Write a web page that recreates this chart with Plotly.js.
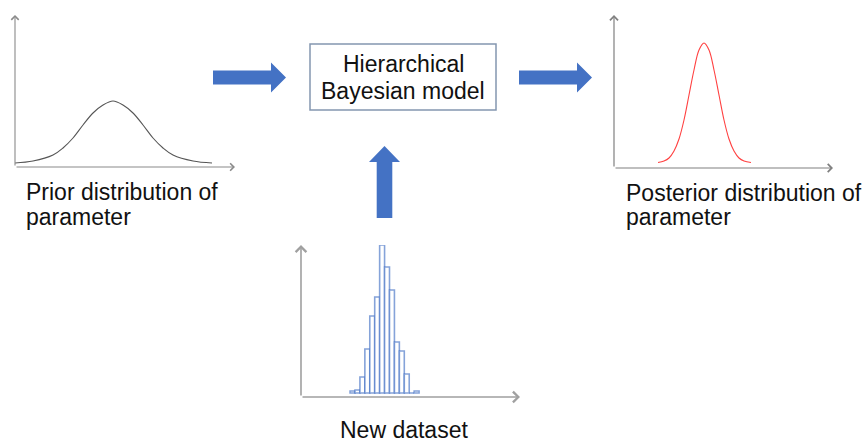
<!DOCTYPE html>
<html>
<head>
<meta charset="utf-8">
<script src="https://cdn.plot.ly/plotly-3.0.1.min.js"></script>
<style>html,body{margin:0;padding:0;background:#fff;}#chart{width:864px;height:443px;}</style>
</head>
<body>
<div id="chart"></div>
<script>
// ---- data ----
// Prior curve (x: px from y-axis, y: px above x-axis)
const priorX = [0, 18, 38, 48, 58, 68, 78, 88, 98, 108, 118, 128, 138, 148, 158, 178, 197];
const priorY = [4, 6, 12, 19, 29, 42, 54, 62, 66, 62, 54, 42, 29, 19, 12, 6, 4];
// Posterior curve
const postX = [44, 50, 55, 60, 65, 70, 75, 80, 85, 90, 95, 100, 105, 110, 115, 120, 125, 130, 137];
const postY = [5.5, 7, 10, 17, 29, 48, 73, 98, 118, 125, 118, 98, 73, 48, 29, 17, 10, 7, 5.5];
// New dataset histogram
const histBins = [1, 2, 3, 4, 5, 6, 7, 8, 9, 10, 11, 12, 13, 14];
const histCounts = [2, 3, 16, 44, 77, 96, 148, 126, 103, 51, 42, 19, 0, 2];
// Texts
const priorLabel = ["Prior distribution of", "parameter"];
const postLabel = ["Posterior distribution of", "parameter"];
const modelLabel = ["Hierarchical", "Bayesian model"];
const dataLabel = "New dataset";

// ---- layout helpers (pixel -> paper) ----
const W = 864, H = 443;
const px = x => x / W;
const py = y => 1 - y / H;
const FONT = '"Liberation Sans", Arial, sans-serif';
const BLUE = '#4472C4';

function arrowRight(x0, xb, xt, yc, sh, hh) {
  const p = [[x0, yc - sh], [xb, yc - sh], [xb, yc - hh], [xt, yc], [xb, yc + hh], [xb, yc + sh], [x0, yc + sh]];
  return 'M' + p.map(q => px(q[0]) + ',' + py(q[1])).join(' L') + ' Z';
}
function arrowUp(y0, yb, yt, xc, sh, hh) {
  const p = [[xc - sh, y0], [xc - sh, yb], [xc - hh, yb], [xc, yt], [xc + hh, yb], [xc + sh, yb], [xc + sh, y0]];
  return 'M' + p.map(q => px(q[0]) + ',' + py(q[1])).join(' L') + ' Z';
}
function axisArrow(tipX, tipY, tailX, tailY, color, width) {
  return {xref: 'paper', yref: 'paper', x: px(tipX), y: py(tipY), ax: tailX - tipX, ay: tailY - tipY,
    text: '', showarrow: true, arrowhead: 4, arrowsize: 1.3, arrowwidth: width, arrowcolor: color, standoff: 0, startstandoff: 0};
}
function label(text, x, y, xanchor, size) {
  return {xref: 'paper', yref: 'paper', x: px(x), y: py(y), text: text, showarrow: false,
    xanchor: xanchor, yanchor: 'middle', font: {family: FONT, size: size, color: '#111'}};
}

const traces = [
  {x: priorX, y: priorY, type: 'scatter', mode: 'lines', xaxis: 'x', yaxis: 'y',
   line: {color: '#555', width: 1.1, shape: 'spline', smoothing: 1}, hoverinfo: 'skip'},
  {x: postX, y: postY, type: 'scatter', mode: 'lines', xaxis: 'x2', yaxis: 'y2',
   line: {color: '#FF4040', width: 1.1, shape: 'spline', smoothing: 1}, hoverinfo: 'skip'},
  {x: histBins, y: histCounts, type: 'bar', xaxis: 'x3', yaxis: 'y3', base: 0,
   marker: {color: 'rgba(255,255,255,1)', line: {color: 'rgba(68,114,196,0.65)', width: 1.6}}, hoverinfo: 'skip'}
];

const hidden = {visible: false, showgrid: false, zeroline: false, fixedrange: true};
const layout = {
  width: W, height: H, margin: {l: 0, r: 0, t: 0, b: 0},
  paper_bgcolor: '#fff', plot_bgcolor: 'rgba(0,0,0,0)', showlegend: false, bargap: 0,
  xaxis: Object.assign({}, hidden, {domain: [px(15), px(235)], range: [0, 220], anchor: 'y'}),
  yaxis: Object.assign({}, hidden, {domain: [py(167), py(15)], range: [0, 152], anchor: 'x'}),
  xaxis2: Object.assign({}, hidden, {domain: [px(614), px(833)], range: [0, 219], anchor: 'y2'}),
  yaxis2: Object.assign({}, hidden, {domain: [py(168), py(15)], range: [0, 153], anchor: 'x2'}),
  xaxis3: Object.assign({}, hidden, {domain: [px(301), px(520)], range: [-9.45, 34.97], anchor: 'y3'}),
  yaxis3: Object.assign({}, hidden, {domain: [py(397), py(245)], range: [-4, 148], anchor: 'x3'}),
  shapes: [
    {type: 'path', xref: 'paper', yref: 'paper', path: arrowRight(213, 271, 286, 77.5, 7, 15), fillcolor: BLUE, line: {width: 0}},
    {type: 'path', xref: 'paper', yref: 'paper', path: arrowRight(519, 577, 592, 77.5, 7, 15), fillcolor: BLUE, line: {width: 0}},
    {type: 'path', xref: 'paper', yref: 'paper', path: arrowUp(218, 162, 146, 384.5, 7.8, 15.5), fillcolor: BLUE, line: {width: 0}},
    {type: 'rect', xref: 'paper', yref: 'paper', x0: px(310), x1: px(496), y0: py(110), y1: py(44),
     fillcolor: '#fff', line: {color: '#8496B0', width: 1.5}}
  ],
  annotations: [
    axisArrow(15, 15, 15, 167, '#8a8a8a', 1.1),
    axisArrow(235, 167, 15, 167, '#8a8a8a', 1.1),
    axisArrow(614, 15, 614, 168, '#808080', 1.2),
    axisArrow(833, 168, 614, 168, '#808080', 1.2),
    axisArrow(301, 245, 301, 397, '#a0a0a0', 1.6),
    axisArrow(520, 397, 301, 397, '#a0a0a0', 1.6),
    label(priorLabel[0], 24, 192, 'left', 23),
    label(priorLabel[1], 24, 217, 'left', 23),
    label(postLabel[0], 624, 193, 'left', 23),
    label(postLabel[1], 624, 217, 'left', 23),
    label(modelLabel[0], 403, 64, 'center', 23),
    label(modelLabel[1], 403, 91, 'center', 23),
    label(dataLabel, 403.5, 430, 'center', 23)
  ]
};

Plotly.newPlot('chart', traces, layout, {staticPlot: true, displayModeBar: false});
</script>
</body>
</html>
